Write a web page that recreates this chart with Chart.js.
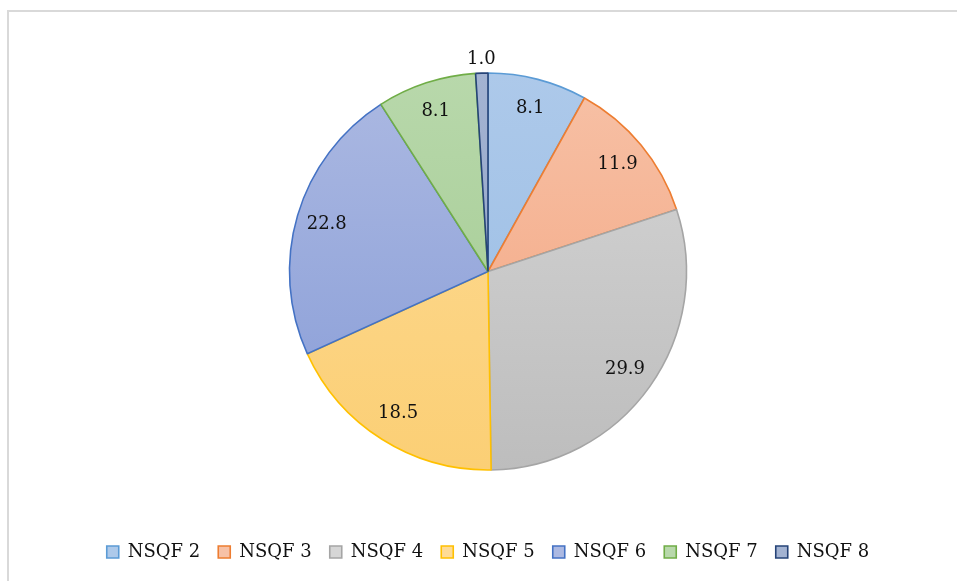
<!DOCTYPE html>
<html>
<head>
<meta charset="utf-8">
<script src="https://cdn.jsdelivr.net/npm/chart.js@4/dist/chart.umd.min.js"></script>
<style>
  html, body { margin: 0; padding: 0; background: #ffffff; }
  #wrap { position: relative; width: 957px; height: 581px; }
</style>
</head>
<body>
<div id="wrap"><canvas id="pie" width="957" height="581"></canvas></div>
<script>
// Share of trainees by NSQF level (%)
const levels = ['NSQF 2', 'NSQF 3', 'NSQF 4', 'NSQF 5', 'NSQF 6', 'NSQF 7', 'NSQF 8'];
const shares = [8.1, 11.9, 29.9, 18.5, 22.8, 8.1, 1.0];

// Slice styling: light tint at the top of the pie, deeper tint at the bottom, solid outline
const topTints    = ['#adc9ea', '#f7c1a6', '#d6d6d6', '#fedb96', '#acb9e2', '#b8d8ab', '#a3b3d2'];
const bottomTints = ['#98bce4', '#f3a37e', '#bdbdbd', '#fbcf75', '#879cd7', '#a0c98e', '#8fa2c6'];
const outlines    = ['#5b9bd5', '#ed7d31', '#a5a5a5', '#ffc000', '#4472c4', '#70ad47', '#264478'];

const PIE_RADIUS = 198.5;
const FONT = '"DejaVu Serif", Georgia, "Liberation Serif", serif';

function sliceFill(ctx) {
  const chart = ctx.chart;
  const area = chart.chartArea;
  const i = ctx.dataIndex;
  if (!area) return topTints[i];
  const cy = (area.top + area.bottom) / 2;
  const g = chart.ctx.createLinearGradient(0, cy - PIE_RADIUS, 0, cy + PIE_RADIUS);
  g.addColorStop(0, topTints[i]);
  g.addColorStop(1, bottomTints[i]);
  return g;
}

// Thin grey frame along the left and top edges
const framePlugin = {
  id: 'frame',
  beforeDraw(chart) {
    const c = chart.ctx;
    c.save();
    c.strokeStyle = '#d9d9d9';
    c.lineWidth = 2;
    c.beginPath();
    c.moveTo(8, chart.height);
    c.lineTo(8, 11);
    c.lineTo(chart.width, 11);
    c.stroke();
    c.restore();
  }
};

// Value labels: inside each slice, or just outside for very thin slices
const valueLabels = {
  id: 'valueLabels',
  afterDatasetsDraw(chart) {
    const c = chart.ctx;
    const meta = chart.getDatasetMeta(0);
    const vals = chart.data.datasets[0].data;
    c.save();
    c.font = '18px ' + FONT;
    c.fillStyle = '#111111';
    c.textAlign = 'center';
    c.textBaseline = 'middle';
    meta.data.forEach((arc, i) => {
      const p = arc.getProps(['x', 'y', 'startAngle', 'endAngle', 'outerRadius']);
      const mid = (p.startAngle + p.endAngle) / 2;
      const span = p.endAngle - p.startAngle;
      const r = span < 0.15 ? p.outerRadius + 14 : p.outerRadius * 0.847;
      const x = p.x + Math.cos(mid) * r;
      const y = p.y + Math.sin(mid) * r;
      c.fillText(vals[i].toFixed(1), x, y);
    });
    c.restore();
  }
};

new Chart(document.getElementById('pie'), {
  type: 'pie',
  data: {
    labels: levels,
    datasets: [{
      data: shares,
      backgroundColor: sliceFill,
      borderColor: outlines,
      borderWidth: 1.6,
      radius: PIE_RADIUS
    }]
  },
  options: {
    responsive: false,
    animation: false,
    events: [],
    layout: { padding: { left: 19, right: 0, top: 18, bottom: 10 } },
    plugins: {
      tooltip: { enabled: false },
      legend: {
        position: 'bottom',
        labels: {
          font: { family: FONT, size: 18 },
          color: '#111111',
          boxWidth: 12,
          boxHeight: 12,
          padding: 18,
          generateLabels(chart) {
            return levels.map((name, i) => ({
              text: name,
              fillStyle: topTints[i],
              strokeStyle: outlines[i],
              lineWidth: 1.6,
              fontColor: '#111111',
              index: i,
              hidden: false
            }));
          }
        }
      }
    }
  },
  plugins: [framePlugin, valueLabels]
});
</script>
</body>
</html>
